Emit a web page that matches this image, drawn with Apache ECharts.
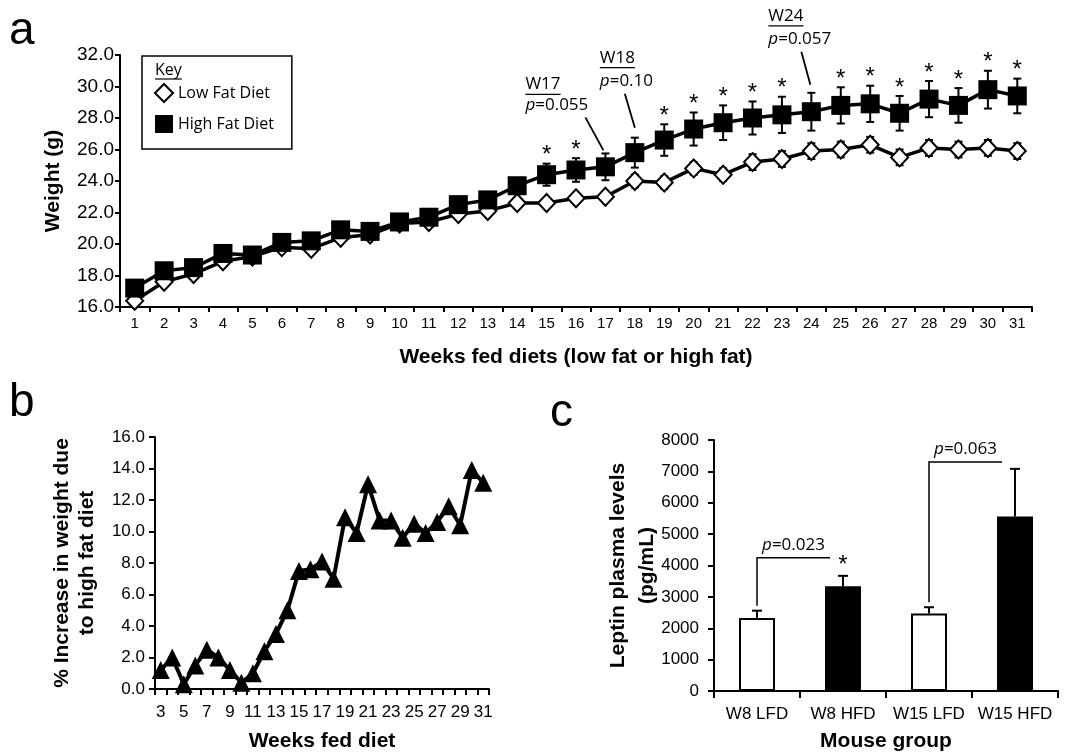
<!DOCTYPE html>
<html><head><meta charset="utf-8">
<script src="https://cdn.jsdelivr.net/npm/echarts@6/dist/echarts.min.js"></script>
<style>html,body{margin:0;padding:0;background:#fff}#c{width:1076px;height:756px}</style>
</head><body><div id="c"></div>
<script>
// ---------- Panel a data ----------
const weekLabels = ['1','2','3','4','5','6','7','8','9','10','11','12','13','14','15','16','17','18','19','20','21','22','23','24','25','26','27','28','29','30','31'];
const lowFatWeight = [16.4,17.6,18.1,18.9,19.2,19.8,19.7,20.4,20.6,21.3,21.4,21.9,22.1,22.6,22.6,22.9,23.0,24.0,23.9,24.8,24.4,25.2,25.4,25.9,26.0,26.3,25.5,26.1,26.0,26.1,25.9];
const lowFatErr = [0.2,0.2,0.2,0.2,0.2,0.2,0.2,0.2,0.2,0.2,0.2,0.3,0.3,0.3,0.3,0.3,0.3,0.4,0.4,0.4,0.4,0.5,0.5,0.5,0.5,0.5,0.5,0.5,0.5,0.5,0.5];
const highFatWeight = [17.2,18.3,18.5,19.4,19.3,20.1,20.2,20.9,20.8,21.4,21.7,22.5,22.8,23.7,24.4,24.7,24.9,25.8,26.6,27.3,27.7,28.0,28.2,28.4,28.8,28.9,28.3,29.2,28.8,29.8,29.4];
const highFatErr = [0.2,0.2,0.2,0.2,0.2,0.2,0.2,0.2,0.2,0.2,0.2,0.25,0.3,0.4,0.7,0.75,0.85,0.95,1.0,1.05,1.1,1.05,1.15,1.2,1.15,1.15,1.1,1.15,1.1,1.2,1.1];
const sigWeeks = ['15','16','19','20','21','22','23','25','26','27','28','29','30','31'];
const annotationWeeks = ['17','18','24'];
const annotationLabels = ['W17','W18','W24'];
const annotationP = ['0.055','0.10','0.057'];

// ---------- Panel b data ----------
const increaseWeeks = ['3','4','5','6','7','8','9','10','11','12','13','14','15','16','17','18','19','20','21','22','23','24','25','26','27','28','29','30','31'];
const increasePct = [1.2,2.0,0.3,1.5,2.5,2.0,1.2,0.4,1.0,2.4,3.5,5.0,7.5,7.6,8.1,7.0,10.9,9.9,13.0,10.7,10.7,9.6,10.5,9.9,10.6,11.6,10.4,13.9,13.1];

// ---------- Panel c data ----------
const leptinGroups = ['W8 LFD','W8 HFD','W15 LFD','W15 HFD'];
const leptinMean = [2330,3340,2470,5560];
const leptinErr = [230,330,200,1520];
const leptinSigIdx = [1];
const bracketFrom = [0,2];
const bracketTo = [1,3];
const bracketLevel = [4250,7300];
const bracketP = ['0.023','0.063'];

// ---------- styles (positions / offsets, not data) ----------
const annStyle = [
  {line:[-20,-36,-2,-3], tx:-80, pY:-48, wY:-69},
  {line:[-10,-44,0,-10], tx:-35, pY:-57, wY:-80},
  {line:[-10,-41,-1,-8], tx:-43, pY:-54, wY:-77}
];
const barFill = ['#fff','#000','#fff','#000'];
const SANS = 'Liberation Sans';
const CAL = 'Open Sans';

const mctx = document.createElement('canvas').getContext('2d');
function textW(t, font){ mctx.font = font; return mctx.measureText(t).width; }

function errRender(capHalf, bothSides, lw){
  return function(params, api){
    const x = api.value(0), v = api.value(1), e = api.value(2);
    const top = api.coord([x, v + e]);
    const bot = api.coord([x, bothSides ? v - e : v]);
    const ch = [
      {type:'line', shape:{x1:top[0], y1:top[1], x2:bot[0], y2:bot[1]}, style:{stroke:'#000', lineWidth:lw}},
      {type:'line', shape:{x1:top[0]-capHalf, y1:top[1], x2:top[0]+capHalf, y2:top[1]}, style:{stroke:'#000', lineWidth:lw}}
    ];
    if (bothSides) ch.push({type:'line', shape:{x1:bot[0]-capHalf, y1:bot[1], x2:bot[0]+capHalf, y2:bot[1]}, style:{stroke:'#000', lineWidth:lw}});
    return {type:'group', children:ch};
  };
}

const chart = echarts.init(document.getElementById('c'), null, {renderer:'canvas'});

const axisLineS = {show:true, lineStyle:{color:'#000', width:2}};
const tickS = {show:true, length:5, lineStyle:{color:'#000', width:2}};
const nameS = {fontSize:21, fontWeight:'bold', color:'#000', fontFamily:SANS};

const wIdx = w => weekLabels.indexOf(w);

const option = {
  animation:false,
  backgroundColor:'#fff',
  grid:[
    {left:120, top:55, width:912, height:252},
    {left:155, top:437, width:334, height:252},
    {left:714, top:440, width:344, height:251}
  ],
  xAxis:[
    {type:'category', gridIndex:0, data:weekLabels, boundaryGap:true, nameMoveOverlap:false,
     axisLine:axisLineS, axisTick:Object.assign({interval:0}, tickS),
     axisLabel:{interval:0, color:'#000', fontSize:15, fontFamily:SANS, margin:9},
     name:'Weeks fed diets (low fat or high fat)', nameLocation:'middle', nameGap:40, nameTextStyle:nameS},
    {type:'category', gridIndex:1, data:increaseWeeks, boundaryGap:true, nameMoveOverlap:false,
     axisLine:axisLineS, axisTick:Object.assign({interval:0}, tickS, {length:6}),
     axisLabel:{interval:1, color:'#000', fontSize:17, fontFamily:SANS, margin:15},
     name:'Weeks fed diet', nameLocation:'middle', nameGap:42, nameTextStyle:nameS},
    {type:'category', gridIndex:2, data:leptinGroups, boundaryGap:true, nameMoveOverlap:false,
     axisLine:axisLineS, axisTick:Object.assign({}, tickS, {length:7}),
     axisLabel:{interval:0, color:'#000', fontSize:17, fontFamily:SANS, margin:15},
     name:'Mouse group', nameLocation:'middle', nameGap:40, nameTextStyle:nameS}
  ],
  yAxis:[
    {type:'value', gridIndex:0, min:16, max:32, interval:2, nameMoveOverlap:false,
     axisLine:axisLineS, axisTick:tickS, splitLine:{show:false},
     axisLabel:{formatter:v=>v.toFixed(1), color:'#000', fontSize:19, fontFamily:SANS, margin:6},
     name:'Weight (g)', nameLocation:'middle', nameGap:56, nameTextStyle:nameS},
    {type:'value', gridIndex:1, min:0, max:16, interval:2, nameMoveOverlap:false,
     axisLine:axisLineS, axisTick:Object.assign({}, tickS, {length:6}), splitLine:{show:false},
     axisLabel:{formatter:v=>v.toFixed(1), color:'#000', fontSize:17, fontFamily:SANS, margin:10},
     name:'% Increase in weight due\nto high fat diet', nameLocation:'middle', nameGap:55,
     nameTextStyle:Object.assign({}, nameS, {lineHeight:25})},
    {type:'value', gridIndex:2, min:0, max:8000, interval:1000, nameMoveOverlap:false,
     axisLine:axisLineS, axisTick:Object.assign({}, tickS, {length:6}), splitLine:{show:false},
     axisLabel:{formatter:v=>String(v), color:'#000', fontSize:17, fontFamily:SANS, margin:15},
     name:'Leptin plasma levels\n(pg/mL)', nameLocation:'middle', nameGap:52,
     nameTextStyle:Object.assign({}, nameS, {lineHeight:29})}
  ],
  legend:{
    left:142, top:56, orient:'vertical', padding:[27,18,16,12], itemGap:12,
    itemWidth:18, itemHeight:18, borderColor:'#000', borderWidth:1.5, selectedMode:false,
    textStyle:{fontSize:16, fontFamily:CAL, color:'#000'},
    data:[
      {name:'Low Fat Diet', icon:'diamond', itemStyle:{color:'#fff', borderColor:'#000', borderWidth:2}},
      {name:'High Fat Diet', icon:'rect', itemStyle:{color:'#000', borderColor:'#000', borderWidth:0}}
    ]
  },
  graphic:[
    {type:'text', x:9, y:54, style:{text:'a', fontSize:46, fontFamily:SANS, fill:'#000', verticalAlign:'bottom'}},
    {type:'text', x:9, y:426, style:{text:'b', fontSize:46, fontFamily:SANS, fill:'#000', verticalAlign:'bottom'}},
    {type:'text', x:550, y:436, style:{text:'c', fontSize:46, fontFamily:SANS, fill:'#000', verticalAlign:'bottom'}},
    {type:'text', x:155, y:70, style:{text:'Key', fontSize:16, fontFamily:CAL, fill:'#000', verticalAlign:'middle'}},
    {type:'line', shape:{x1:155, y1:79, x2:155+textW('Key','16px "Open Sans"'), y2:79}, style:{stroke:'#000', lineWidth:1.2}}
  ],
  series:[
    // Panel a
    {type:'custom', name:'lfdErr', xAxisIndex:0, yAxisIndex:0, z:1,
     renderItem:errRender(4,true,2), data:lowFatWeight.map((v,i)=>[i,v,lowFatErr[i]])},
    {type:'line', name:'Low Fat Diet', xAxisIndex:0, yAxisIndex:0, z:2,
     data:lowFatWeight, symbol:'diamond', symbolSize:[17,18], showAllSymbol:true,
     itemStyle:{color:'#fff', borderColor:'#000', borderWidth:2},
     lineStyle:{color:'#000', width:3.5}},
    {type:'custom', name:'hfdErr', xAxisIndex:0, yAxisIndex:0, z:3,
     renderItem:errRender(4,true,2), data:highFatWeight.map((v,i)=>[i,v,highFatErr[i]])},
    {type:'line', name:'High Fat Diet', xAxisIndex:0, yAxisIndex:0, z:4,
     data:highFatWeight, symbol:'rect', symbolSize:19, showAllSymbol:true,
     itemStyle:{color:'#000', borderColor:'#000', borderWidth:0},
     lineStyle:{color:'#000', width:3.5}},
    {type:'custom', name:'stars', xAxisIndex:0, yAxisIndex:0, z:5,
     renderItem:function(params, api){
       const p = api.coord([api.value(0), api.value(1)]);
       return {type:'text', x:p[0], y:p[1]-8, style:{text:'*', fontSize:24, fontFamily:SANS, fill:'#000', align:'center', verticalAlign:'middle'}};
     },
     data:sigWeeks.map(w=>{const i=wIdx(w); return [i, highFatWeight[i]+highFatErr[i]];})},
    {type:'custom', name:'ann', xAxisIndex:0, yAxisIndex:0, z:5,
     renderItem:function(params, api){
       const k = api.value(2), s = annStyle[k];
       const p = api.coord([api.value(0), api.value(1)]);
       const lw = textW(annotationLabels[k], '17px "Open Sans"');
       return {type:'group', children:[
         {type:'line', shape:{x1:p[0]+s.line[0], y1:p[1]+s.line[1], x2:p[0]+s.line[2], y2:p[1]+s.line[3]}, style:{stroke:'#000', lineWidth:1.8}},
         {type:'text', x:p[0]+s.tx, y:p[1]+s.wY, style:{text:annotationLabels[k], fontSize:17, fontFamily:CAL, fill:'#000', verticalAlign:'middle'}},
         {type:'line', shape:{x1:p[0]+s.tx, y1:p[1]+s.wY+10, x2:p[0]+s.tx+lw, y2:p[1]+s.wY+10}, style:{stroke:'#000', lineWidth:1.2}},
         {type:'text', x:p[0]+s.tx, y:p[1]+s.pY, style:{text:'{i|p}=' + annotationP[k], fontSize:17, fontFamily:CAL, fill:'#000', verticalAlign:'middle',
           rich:{i:{fontStyle:'italic', fontSize:17, fontFamily:CAL, fill:'#000'}}}}
       ]};
     },
     data:annotationWeeks.map((w,k)=>{const i=wIdx(w); return [i, highFatWeight[i]+highFatErr[i], k];})},

    // Panel b
    {type:'line', name:'increase', xAxisIndex:1, yAxisIndex:1,
     data:increasePct, symbol:'triangle', symbolSize:18, showAllSymbol:true,
     itemStyle:{color:'#000'}, lineStyle:{color:'#000', width:4}},

    // Panel c
    {type:'bar', name:'leptin', xAxisIndex:2, yAxisIndex:2, barWidth:36, z:2,
     data:leptinMean.map((v,i)=>({value:v, itemStyle:{color:barFill[i], borderColor:'#000', borderWidth:2}}))},
    {type:'custom', name:'leptinErr', xAxisIndex:2, yAxisIndex:2, z:3,
     renderItem:errRender(5,false,2), data:leptinMean.map((v,i)=>[i,v,leptinErr[i]])},
    {type:'custom', name:'leptinStar', xAxisIndex:2, yAxisIndex:2, z:4,
     renderItem:function(params, api){
       const p = api.coord([api.value(0), api.value(1)]);
       return {type:'text', x:p[0], y:p[1]-10, style:{text:'*', fontSize:24, fontFamily:SANS, fill:'#000', align:'center', verticalAlign:'middle'}};
     },
     data:leptinSigIdx.map(i=>[i, leptinMean[i]+leptinErr[i]])},
    {type:'custom', name:'brackets', xAxisIndex:2, yAxisIndex:2, z:4,
     renderItem:function(params, api){
       const k = api.value(2);
       const f = bracketFrom[k], t = bracketTo[k];
       const start = api.coord([f, leptinMean[f]+leptinErr[f]]);
       const lvl = api.coord([f, bracketLevel[k]]);
       const end = api.coord([t, bracketLevel[k]]);
       const x1 = start[0], y1 = start[1]-5, x2 = end[0]-13, yl = lvl[1];
       return {type:'group', children:[
         {type:'polyline', shape:{points:[[x1,y1],[x1,yl],[x2,yl]]}, style:{stroke:'#000', lineWidth:1.5, fill:null}},
         {type:'text', x:(x1+x2)/2, y:yl-13, style:{text:'{i|p}=' + bracketP[k], fontSize:17, fontFamily:CAL, fill:'#000', align:'center', verticalAlign:'middle',
           rich:{i:{fontStyle:'italic', fontSize:17, fontFamily:CAL, fill:'#000'}}}}
       ]};
     },
     data:bracketFrom.map((f,k)=>[f, bracketLevel[k], k])}
  ]
};
chart.setOption(option);
</script>
</body></html>
